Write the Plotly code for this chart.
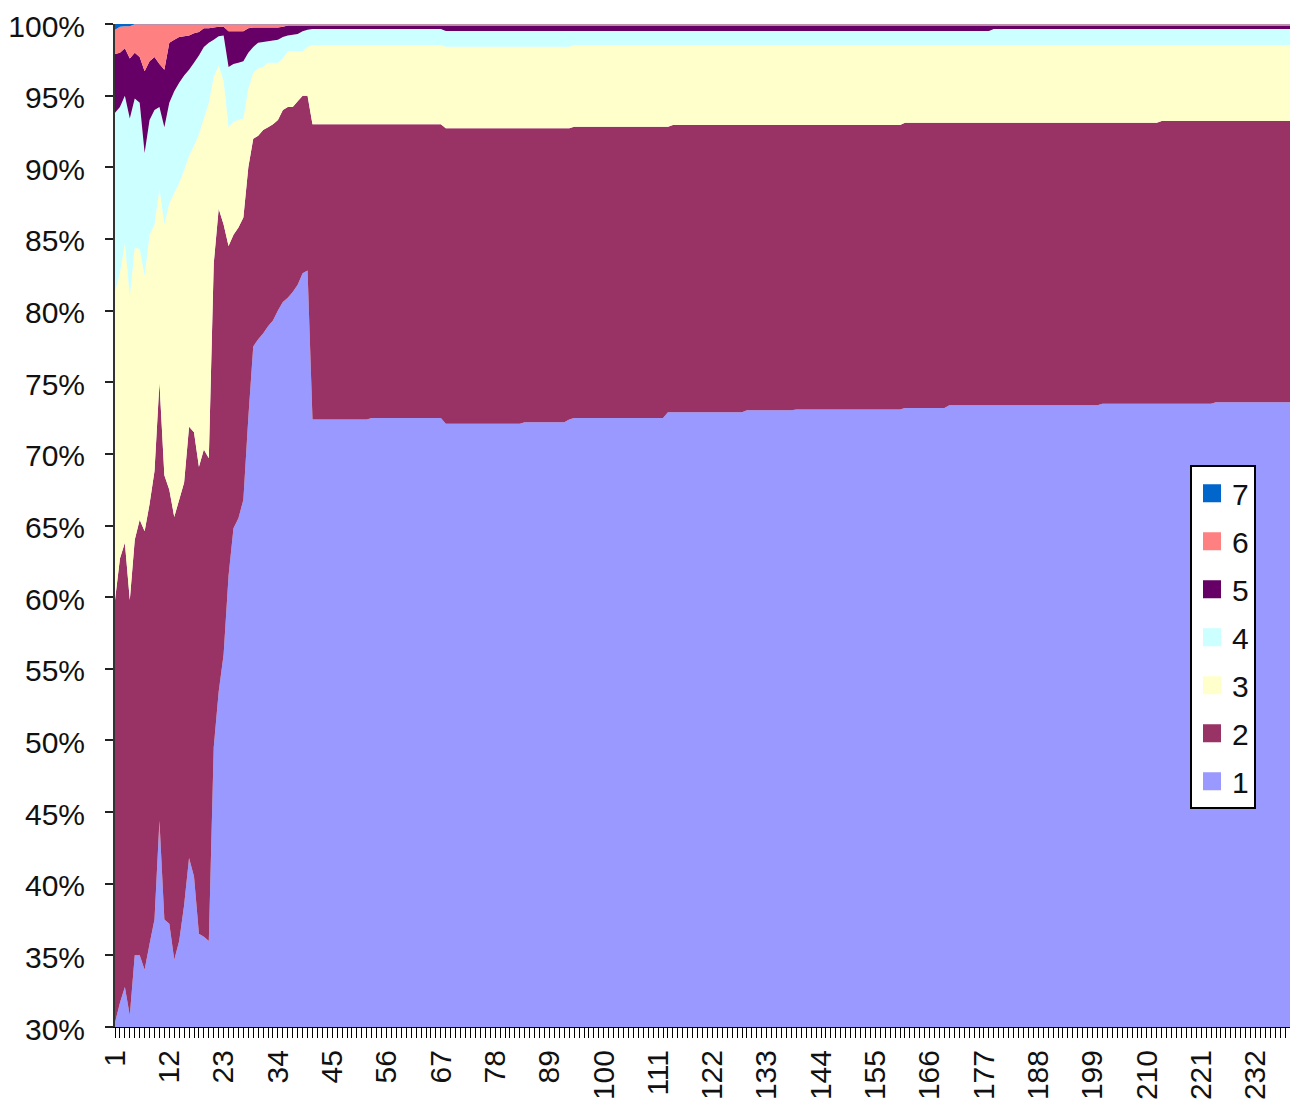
import plotly.graph_objects as go

# categories along the x axis (1 .. 240)
categories = list(range(1, 241))
x_tick_vals = [1, 12, 23, 34, 45, 56, 67, 78, 89, 100, 111, 122, 133, 144, 155, 166, 177, 188, 199, 210, 221, 232]
x_tick_labels = ['1', '12', '23', '34', '45', '56', '67', '78', '89', '100', '111', '122', '133', '144',
                 '155', '166', '177', '188', '199', '210', '221', '232']
y_tick_vals = [30, 35, 40, 45, 50, 55, 60, 65, 70, 75, 80, 85, 90, 95, 100]

# share of each series per category (percent)
series_1 = [
    30.3, 31.7, 32.8, 30.8, 35.0, 35.0, 34.0, 35.8, 37.5, 44.4,
    37.5, 37.2, 34.7, 36.0, 38.5, 41.8, 40.5, 36.5, 36.3, 36.0,
    49.5, 53.4, 56.0, 61.5, 64.8, 65.5, 66.8, 72.5, 77.5, 78.0,
    78.4, 78.9, 79.3, 80.0, 80.6, 80.9, 81.3, 81.8, 82.6, 82.8,
    # 41-52
    72.4, 72.4, 72.4, 72.4, 72.4, 72.4, 72.4, 72.4, 72.4, 72.4,
    72.4, 72.4,
    # 53-67
    72.5, 72.5, 72.5, 72.5, 72.5, 72.5, 72.5, 72.5, 72.5, 72.5,
    72.5, 72.5, 72.5, 72.5, 72.5,
    # 68-83
    72.1, 72.1, 72.1, 72.1, 72.1, 72.1, 72.1, 72.1, 72.1, 72.1,
    72.1, 72.1, 72.1, 72.1, 72.1, 72.1,
    # 84-92
    72.2, 72.2, 72.2, 72.2, 72.2, 72.2, 72.2, 72.2, 72.2,
    # 93
    72.4,
    # 94-112
    72.5, 72.5, 72.5, 72.5, 72.5, 72.5, 72.5, 72.5, 72.5, 72.5,
    72.5, 72.5, 72.5, 72.5, 72.5, 72.5, 72.5, 72.5, 72.5,
    # 113-128
    72.9, 72.9, 72.9, 72.9, 72.9, 72.9, 72.9, 72.9, 72.9, 72.9,
    72.9, 72.9, 72.9, 72.9, 72.9, 72.9,
    # 129-138
    73.05, 73.05, 73.05, 73.05, 73.05, 73.05, 73.05, 73.05, 73.05, 73.05,
    # 139-160
    73.1, 73.1, 73.1, 73.1, 73.1, 73.1, 73.1, 73.1, 73.1, 73.1,
    73.1, 73.1, 73.1, 73.1, 73.1, 73.1, 73.1, 73.1, 73.1, 73.1,
    73.1, 73.1,
    # 161-169
    73.2, 73.2, 73.2, 73.2, 73.2, 73.2, 73.2, 73.2, 73.2,
    # 170-200
    73.4, 73.4, 73.4, 73.4, 73.4, 73.4, 73.4, 73.4, 73.4, 73.4,
    73.4, 73.4, 73.4, 73.4, 73.4, 73.4, 73.4, 73.4, 73.4, 73.4,
    73.4, 73.4, 73.4, 73.4, 73.4, 73.4, 73.4, 73.4, 73.4, 73.4,
    73.4,
    # 201-223
    73.5, 73.5, 73.5, 73.5, 73.5, 73.5, 73.5, 73.5, 73.5, 73.5,
    73.5, 73.5, 73.5, 73.5, 73.5, 73.5, 73.5, 73.5, 73.5, 73.5,
    73.5, 73.5, 73.5,
    # 224-239
    73.6, 73.6, 73.6, 73.6, 73.6, 73.6, 73.6, 73.6, 73.6, 73.6,
    73.6, 73.6, 73.6, 73.6, 73.6, 73.6,
    # 240
    73.95,
]

series_2 = [
    29.5, 31.0, 31.0, 29.0, 29.0, 30.4, 30.6, 30.7, 31.3, 30.6,
    31.0, 30.3, 30.9, 30.8, 29.5, 30.1, 31.0, 32.6, 34.0, 33.7,
    33.8, 33.7, 30.0, 23.0, 20.5, 20.3, 19.7, 17.5, 14.5, 14.2,
    14.2, 13.9, 13.7, 13.3, 13.4, 13.3, 12.9, 12.8, 12.4, 12.2,
    # 41-52
    20.6, 20.6, 20.6, 20.6, 20.6, 20.6, 20.6, 20.6, 20.6, 20.6,
    20.6, 20.6,
    # 53-67
    20.5, 20.5, 20.5, 20.5, 20.5, 20.5, 20.5, 20.5, 20.5, 20.5,
    20.5, 20.5, 20.5, 20.5, 20.5,
    # 68-83
    20.62, 20.62, 20.62, 20.62, 20.62, 20.62, 20.62, 20.62, 20.62, 20.62,
    20.62, 20.62, 20.62, 20.62, 20.62, 20.62,
    # 84-92
    20.52, 20.52, 20.52, 20.52, 20.52, 20.52, 20.52, 20.52, 20.52,
    # 93
    20.32,
    # 94-112
    20.33, 20.33, 20.33, 20.33, 20.33, 20.33, 20.33, 20.33, 20.33, 20.33,
    20.33, 20.33, 20.33, 20.33, 20.33, 20.33, 20.33, 20.33, 20.33,
    # 113
    19.93,
    # 114-128
    20.05, 20.05, 20.05, 20.05, 20.05, 20.05, 20.05, 20.05, 20.05, 20.05,
    20.05, 20.05, 20.05, 20.05, 20.05,
    # 129-138
    19.9, 19.9, 19.9, 19.9, 19.9, 19.9, 19.9, 19.9, 19.9, 19.9,
    # 139-160
    19.85, 19.85, 19.85, 19.85, 19.85, 19.85, 19.85, 19.85, 19.85, 19.85,
    19.85, 19.85, 19.85, 19.85, 19.85, 19.85, 19.85, 19.85, 19.85, 19.85,
    19.85, 19.85,
    # 161-169
    19.91, 19.91, 19.91, 19.91, 19.91, 19.91, 19.91, 19.91, 19.91,
    # 170-200
    19.71, 19.71, 19.71, 19.71, 19.71, 19.71, 19.71, 19.71, 19.71, 19.71,
    19.71, 19.71, 19.71, 19.71, 19.71, 19.71, 19.71, 19.71, 19.71, 19.71,
    19.71, 19.71, 19.71, 19.71, 19.71, 19.71, 19.71, 19.71, 19.71, 19.71,
    19.71,
    # 201-212
    19.61, 19.61, 19.61, 19.61, 19.61, 19.61, 19.61, 19.61, 19.61, 19.61,
    19.61, 19.61,
    # 213-223
    19.73, 19.73, 19.73, 19.73, 19.73, 19.73, 19.73, 19.73, 19.73, 19.73,
    19.73,
    # 224-239
    19.63, 19.63, 19.63, 19.63, 19.63, 19.63, 19.63, 19.63, 19.63, 19.63,
    19.63, 19.63, 19.63, 19.63, 19.63, 19.63,
    # 240
    19.28,
]

series_3 = [
    21.5, 19.9, 20.9, 21.2, 20.4, 18.9, 17.8, 18.8, 17.2, 13.5,
    17.5, 20.0, 22.6, 22.1, 21.8, 18.9, 20.0, 23.2, 23.1, 24.8,
    13.0, 10.0, 10.0, 8.3, 7.9, 7.5, 6.9, 5.5, 4.6, 4.7,
    4.4, 4.5, 4.3, 4.0, 3.6, 3.9, 3.9, 3.5, 3.1, 3.4,
    # 41-67
    5.53, 5.53, 5.53, 5.53, 5.53, 5.53, 5.53, 5.53, 5.53, 5.53,
    5.53, 5.53, 5.53, 5.53, 5.53, 5.53, 5.53, 5.53, 5.53, 5.53,
    5.53, 5.53, 5.53, 5.53, 5.53, 5.53, 5.53,
    # 68-113
    5.7, 5.7, 5.7, 5.7, 5.7, 5.7, 5.7, 5.7, 5.7, 5.7,
    5.7, 5.7, 5.7, 5.7, 5.7, 5.7, 5.7, 5.7, 5.7, 5.7,
    5.7, 5.7, 5.7, 5.7, 5.7, 5.7, 5.7, 5.7, 5.7, 5.7,
    5.7, 5.7, 5.7, 5.7, 5.7, 5.7, 5.7, 5.7, 5.7, 5.7,
    5.7, 5.7, 5.7, 5.7, 5.7, 5.7,
    # 114-160
    5.58, 5.58, 5.58, 5.58, 5.58, 5.58, 5.58, 5.58, 5.58, 5.58,
    5.58, 5.58, 5.58, 5.58, 5.58, 5.58, 5.58, 5.58, 5.58, 5.58,
    5.58, 5.58, 5.58, 5.58, 5.58, 5.58, 5.58, 5.58, 5.58, 5.58,
    5.58, 5.58, 5.58, 5.58, 5.58, 5.58, 5.58, 5.58, 5.58, 5.58,
    5.58, 5.58, 5.58, 5.58, 5.58, 5.58, 5.58,
    # 161-212
    5.42, 5.42, 5.42, 5.42, 5.42, 5.42, 5.42, 5.42, 5.42, 5.42,
    5.42, 5.42, 5.42, 5.42, 5.42, 5.42, 5.42, 5.42, 5.42, 5.42,
    5.42, 5.42, 5.42, 5.42, 5.42, 5.42, 5.42, 5.42, 5.42, 5.42,
    5.42, 5.42, 5.42, 5.42, 5.42, 5.42, 5.42, 5.42, 5.42, 5.42,
    5.42, 5.42, 5.42, 5.42, 5.42, 5.42, 5.42, 5.42, 5.42, 5.42,
    5.42, 5.42,
    # 213-240
    5.3, 5.3, 5.3, 5.3, 5.3, 5.3, 5.3, 5.3, 5.3, 5.3,
    5.3, 5.3, 5.3, 5.3, 5.3, 5.3, 5.3, 5.3, 5.3, 5.3,
    5.3, 5.3, 5.3, 5.3, 5.3, 5.3, 5.3, 5.3,
]

series_4 = [
    12.5, 11.6, 10.3, 12.4, 10.4, 10.2, 8.6, 8.0, 8.0, 5.7,
    6.8, 7.0, 7.1, 7.0, 6.6, 6.0, 5.8, 5.5, 5.0, 4.2,
    2.6, 2.05, 3.2, 4.2, 4.0, 4.0, 4.0, 2.5, 1.8, 1.8,
    1.75, 1.5, 1.55, 1.6, 1.5, 1.1, 1.15, 1.2, 1.4, 1.2,
    # 41-67
    1.12, 1.12, 1.12, 1.12, 1.12, 1.12, 1.12, 1.12, 1.12, 1.12,
    1.12, 1.12, 1.12, 1.12, 1.12, 1.12, 1.12, 1.12, 1.12, 1.12,
    1.12, 1.12, 1.12, 1.12, 1.12, 1.12, 1.12,
    # 68-93
    1.09, 1.09, 1.09, 1.09, 1.09, 1.09, 1.09, 1.09, 1.09, 1.09,
    1.09, 1.09, 1.09, 1.09, 1.09, 1.09, 1.09, 1.09, 1.09, 1.09,
    1.09, 1.09, 1.09, 1.09, 1.09, 1.09,
    # 94-178
    0.98, 0.98, 0.98, 0.98, 0.98, 0.98, 0.98, 0.98, 0.98, 0.98,
    0.98, 0.98, 0.98, 0.98, 0.98, 0.98, 0.98, 0.98, 0.98, 0.98,
    0.98, 0.98, 0.98, 0.98, 0.98, 0.98, 0.98, 0.98, 0.98, 0.98,
    0.98, 0.98, 0.98, 0.98, 0.98, 0.98, 0.98, 0.98, 0.98, 0.98,
    0.98, 0.98, 0.98, 0.98, 0.98, 0.98, 0.98, 0.98, 0.98, 0.98,
    0.98, 0.98, 0.98, 0.98, 0.98, 0.98, 0.98, 0.98, 0.98, 0.98,
    0.98, 0.98, 0.98, 0.98, 0.98, 0.98, 0.98, 0.98, 0.98, 0.98,
    0.98, 0.98, 0.98, 0.98, 0.98, 0.98, 0.98, 0.98, 0.98, 0.98,
    0.98, 0.98, 0.98, 0.98, 0.98,
    # 179-240
    1.12, 1.12, 1.12, 1.12, 1.12, 1.12, 1.12, 1.12, 1.12, 1.12,
    1.12, 1.12, 1.12, 1.12, 1.12, 1.12, 1.12, 1.12, 1.12, 1.12,
    1.12, 1.12, 1.12, 1.12, 1.12, 1.12, 1.12, 1.12, 1.12, 1.12,
    1.12, 1.12, 1.12, 1.12, 1.12, 1.12, 1.12, 1.12, 1.12, 1.12,
    1.12, 1.12, 1.12, 1.12, 1.12, 1.12, 1.12, 1.12, 1.12, 1.12,
    1.12, 1.12, 1.12, 1.12, 1.12, 1.12, 1.12, 1.12, 1.12, 1.12,
    1.12, 1.12,
]

series_5 = [
    4.1, 3.8, 3.3, 4.2, 3.2, 3.2, 5.7, 4.1, 3.7, 3.0,
    4.0, 4.2, 3.6, 3.2, 2.75, 2.4, 2.05, 1.65, 1.3, 1.0,
    0.85, 0.65, 0.6, 2.5, 2.3, 2.2, 2.1, 1.7, 1.35, 1.05,
    1.0, 0.95, 0.9, 0.85, 0.7, 0.7, 0.65, 0.6, 0.4, 0.3,
    # 41-67
    0.25, 0.25, 0.25, 0.25, 0.25, 0.25, 0.25, 0.25, 0.25, 0.25,
    0.25, 0.25, 0.25, 0.25, 0.25, 0.25, 0.25, 0.25, 0.25, 0.25,
    0.25, 0.25, 0.25, 0.25, 0.25, 0.25, 0.25,
    # 68-178
    0.39, 0.39, 0.39, 0.39, 0.39, 0.39, 0.39, 0.39, 0.39, 0.39,
    0.39, 0.39, 0.39, 0.39, 0.39, 0.39, 0.39, 0.39, 0.39, 0.39,
    0.39, 0.39, 0.39, 0.39, 0.39, 0.39, 0.39, 0.39, 0.39, 0.39,
    0.39, 0.39, 0.39, 0.39, 0.39, 0.39, 0.39, 0.39, 0.39, 0.39,
    0.39, 0.39, 0.39, 0.39, 0.39, 0.39, 0.39, 0.39, 0.39, 0.39,
    0.39, 0.39, 0.39, 0.39, 0.39, 0.39, 0.39, 0.39, 0.39, 0.39,
    0.39, 0.39, 0.39, 0.39, 0.39, 0.39, 0.39, 0.39, 0.39, 0.39,
    0.39, 0.39, 0.39, 0.39, 0.39, 0.39, 0.39, 0.39, 0.39, 0.39,
    0.39, 0.39, 0.39, 0.39, 0.39, 0.39, 0.39, 0.39, 0.39, 0.39,
    0.39, 0.39, 0.39, 0.39, 0.39, 0.39, 0.39, 0.39, 0.39, 0.39,
    0.39, 0.39, 0.39, 0.39, 0.39, 0.39, 0.39, 0.39, 0.39, 0.39,
    0.39,
    # 179-240
    0.25, 0.25, 0.25, 0.25, 0.25, 0.25, 0.25, 0.25, 0.25, 0.25,
    0.25, 0.25, 0.25, 0.25, 0.25, 0.25, 0.25, 0.25, 0.25, 0.25,
    0.25, 0.25, 0.25, 0.25, 0.25, 0.25, 0.25, 0.25, 0.25, 0.25,
    0.25, 0.25, 0.25, 0.25, 0.25, 0.25, 0.25, 0.25, 0.25, 0.25,
    0.25, 0.25, 0.25, 0.25, 0.25, 0.25, 0.25, 0.25, 0.25, 0.25,
    0.25, 0.25, 0.25, 0.25, 0.25, 0.25, 0.25, 0.25, 0.25, 0.25,
    0.25, 0.25,
]

series_6 = [
    1.7, 1.8, 1.55, 2.25, 1.98, 2.28, 3.28, 2.58, 2.28, 2.78,
    3.18, 1.28, 1.08, 0.88, 0.83, 0.78, 0.63, 0.53, 0.28, 0.28,
    0.23, 0.18, 0.18, 0.48, 0.48, 0.48, 0.48, 0.28, 0.23, 0.23,
    0.23, 0.23, 0.23, 0.23, 0.18, 0.08, 0.08, 0.08, 0.08, 0.08,
    # 41-240
    0.08, 0.08, 0.08, 0.08, 0.08, 0.08, 0.08, 0.08, 0.08, 0.08,
    0.08, 0.08, 0.08, 0.08, 0.08, 0.08, 0.08, 0.08, 0.08, 0.08,
    0.08, 0.08, 0.08, 0.08, 0.08, 0.08, 0.08, 0.08, 0.08, 0.08,
    0.08, 0.08, 0.08, 0.08, 0.08, 0.08, 0.08, 0.08, 0.08, 0.08,
    0.08, 0.08, 0.08, 0.08, 0.08, 0.08, 0.08, 0.08, 0.08, 0.08,
    0.08, 0.08, 0.08, 0.08, 0.08, 0.08, 0.08, 0.08, 0.08, 0.08,
    0.08, 0.08, 0.08, 0.08, 0.08, 0.08, 0.08, 0.08, 0.08, 0.08,
    0.08, 0.08, 0.08, 0.08, 0.08, 0.08, 0.08, 0.08, 0.08, 0.08,
    0.08, 0.08, 0.08, 0.08, 0.08, 0.08, 0.08, 0.08, 0.08, 0.08,
    0.08, 0.08, 0.08, 0.08, 0.08, 0.08, 0.08, 0.08, 0.08, 0.08,
    0.08, 0.08, 0.08, 0.08, 0.08, 0.08, 0.08, 0.08, 0.08, 0.08,
    0.08, 0.08, 0.08, 0.08, 0.08, 0.08, 0.08, 0.08, 0.08, 0.08,
    0.08, 0.08, 0.08, 0.08, 0.08, 0.08, 0.08, 0.08, 0.08, 0.08,
    0.08, 0.08, 0.08, 0.08, 0.08, 0.08, 0.08, 0.08, 0.08, 0.08,
    0.08, 0.08, 0.08, 0.08, 0.08, 0.08, 0.08, 0.08, 0.08, 0.08,
    0.08, 0.08, 0.08, 0.08, 0.08, 0.08, 0.08, 0.08, 0.08, 0.08,
    0.08, 0.08, 0.08, 0.08, 0.08, 0.08, 0.08, 0.08, 0.08, 0.08,
    0.08, 0.08, 0.08, 0.08, 0.08, 0.08, 0.08, 0.08, 0.08, 0.08,
    0.08, 0.08, 0.08, 0.08, 0.08, 0.08, 0.08, 0.08, 0.08, 0.08,
    0.08, 0.08, 0.08, 0.08, 0.08, 0.08, 0.08, 0.08, 0.08, 0.08,
]

series_7 = [
    0.4, 0.2, 0.15, 0.15, 0.02, 0.02, 0.02, 0.02, 0.02, 0.02,
    0.02, 0.02, 0.02, 0.02, 0.02, 0.02, 0.02, 0.02, 0.02, 0.02,
    0.02, 0.02, 0.02, 0.02, 0.02, 0.02, 0.02, 0.02, 0.02, 0.02,
    0.02, 0.02, 0.02, 0.02, 0.02, 0.02, 0.02, 0.02, 0.02, 0.02,
    # 41-240
    0.02, 0.02, 0.02, 0.02, 0.02, 0.02, 0.02, 0.02, 0.02, 0.02,
    0.02, 0.02, 0.02, 0.02, 0.02, 0.02, 0.02, 0.02, 0.02, 0.02,
    0.02, 0.02, 0.02, 0.02, 0.02, 0.02, 0.02, 0.02, 0.02, 0.02,
    0.02, 0.02, 0.02, 0.02, 0.02, 0.02, 0.02, 0.02, 0.02, 0.02,
    0.02, 0.02, 0.02, 0.02, 0.02, 0.02, 0.02, 0.02, 0.02, 0.02,
    0.02, 0.02, 0.02, 0.02, 0.02, 0.02, 0.02, 0.02, 0.02, 0.02,
    0.02, 0.02, 0.02, 0.02, 0.02, 0.02, 0.02, 0.02, 0.02, 0.02,
    0.02, 0.02, 0.02, 0.02, 0.02, 0.02, 0.02, 0.02, 0.02, 0.02,
    0.02, 0.02, 0.02, 0.02, 0.02, 0.02, 0.02, 0.02, 0.02, 0.02,
    0.02, 0.02, 0.02, 0.02, 0.02, 0.02, 0.02, 0.02, 0.02, 0.02,
    0.02, 0.02, 0.02, 0.02, 0.02, 0.02, 0.02, 0.02, 0.02, 0.02,
    0.02, 0.02, 0.02, 0.02, 0.02, 0.02, 0.02, 0.02, 0.02, 0.02,
    0.02, 0.02, 0.02, 0.02, 0.02, 0.02, 0.02, 0.02, 0.02, 0.02,
    0.02, 0.02, 0.02, 0.02, 0.02, 0.02, 0.02, 0.02, 0.02, 0.02,
    0.02, 0.02, 0.02, 0.02, 0.02, 0.02, 0.02, 0.02, 0.02, 0.02,
    0.02, 0.02, 0.02, 0.02, 0.02, 0.02, 0.02, 0.02, 0.02, 0.02,
    0.02, 0.02, 0.02, 0.02, 0.02, 0.02, 0.02, 0.02, 0.02, 0.02,
    0.02, 0.02, 0.02, 0.02, 0.02, 0.02, 0.02, 0.02, 0.02, 0.02,
    0.02, 0.02, 0.02, 0.02, 0.02, 0.02, 0.02, 0.02, 0.02, 0.02,
    0.02, 0.02, 0.02, 0.02, 0.02, 0.02, 0.02, 0.02, 0.02, 0.02,
]

series_names = ['1', '2', '3', '4', '5', '6', '7']
series_values = [series_1, series_2, series_3, series_4, series_5, series_6, series_7]
# classic excel palette
colors = ['#9999FF', '#993366', '#FFFFCC', '#CCFFFF', '#660066', '#FF8080', '#0066CC']

for name, vals in zip(series_names, series_values):
    assert len(vals) == len(categories), (name, len(vals))

fig = go.Figure()

# the 100% stacked areas
for name, vals, col in zip(series_names, series_values, colors):
    fig.add_trace(go.Scatter(
        x=categories, y=vals, name=name,
        stackgroup='one', groupnorm='percent',
        mode='none', fillcolor=col,
        showlegend=False, hoverinfo='skip'))

# legend entries with square keys, 7 on top down to 1
for name, col in reversed(list(zip(series_names, colors))):
    fig.add_trace(go.Scatter(
        x=[None], y=[None], name=name, mode='markers',
        legendgroup=name,
        marker=dict(symbol='square', size=20, color=col, line=dict(width=2, color=col))))

# the page body has an 8px margin, so the figure is 8px smaller than the window
fig.update_layout(
    width=1290, height=1103,
    margin=dict(l=107, r=3, t=16, b=84),
    paper_bgcolor='white', plot_bgcolor='white',
    font=dict(family='Liberation Sans, Arial, sans-serif', size=30, color='#111111'),
    legend=dict(
        x=0.911, y=0.56, xanchor='left', yanchor='top',
        bgcolor='white', bordercolor='black', borderwidth=2,
        font=dict(size=30), traceorder='grouped', tracegroupgap=6,
        itemwidth=30),
    hovermode=False,
)

fig.update_xaxes(
    range=[1, 240], tickmode='array',
    tickvals=categories,
    ticktext=[x_tick_labels[x_tick_vals.index(c)] if c in x_tick_vals else '' for c in categories],
    tickangle=-90, ticks='outside', ticklen=10, tickwidth=1, tickcolor='black',
    ticklabeloverflow='allow',
    showline=True, linecolor='black', linewidth=1,
    showgrid=False, zeroline=False, automargin=False)

# labels nudged down 2px so the top one stays inside the figure
fig.update_yaxes(
    range=[30, 100], tickmode='array', tickvals=y_tick_vals,
    ticktext=[f'{v}%' for v in y_tick_vals],
    tickfont=dict(size=30),
    ticks='outside', ticklen=8, tickwidth=2, tickcolor='#222222',
    ticklabelstandoff=14, ticklabelshift=2, ticklabeloverflow='allow',
    showline=True, linecolor='#333333', linewidth=2, mirror=True,
    showgrid=False, zeroline=False, automargin=False)

fig.write_html("out.html")
